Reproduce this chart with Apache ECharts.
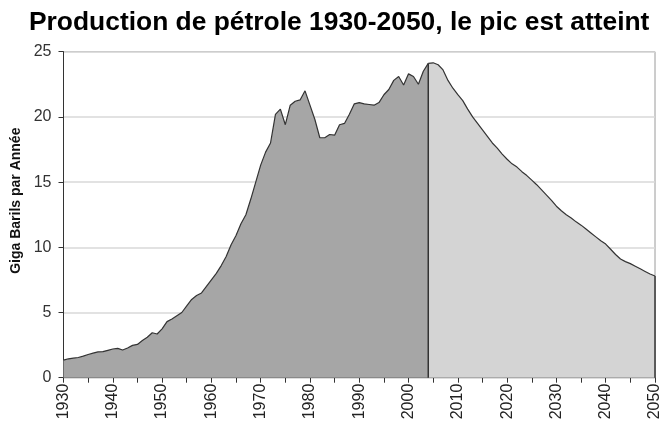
<!DOCTYPE html>
<html>
<head>
<meta charset="utf-8">
<script src="https://cdn.jsdelivr.net/npm/echarts@6/dist/echarts.min.js"></script>
<style>
html,body{margin:0;padding:0;background:#fff;}
#c{width:663px;height:427px;}
</style>
</head>
<body>
<div id="c"></div>
<script>
var titleText = "Production de pétrole 1930-2050, le pic est atteint";
var yAxisName = "Giga Barils par Année";

// Historical production 1930-2004 (one value per year)
var histStartYear = 1930;
var histValues = [
  1.35, 1.45, 1.5, 1.55, 1.65, 1.78, 1.88, 1.98, 2.0, 2.1,
  2.2, 2.25, 2.12, 2.28, 2.48, 2.55, 2.85, 3.1, 3.45, 3.35,
  3.75, 4.3, 4.5, 4.75, 5.0, 5.5, 6.0, 6.3, 6.5, 7.0,
  7.5, 8.0, 8.6, 9.3, 10.2, 10.9, 11.8, 12.5, 13.7, 15.0,
  16.3, 17.3, 18.0, 20.2, 20.6, 19.4, 20.9, 21.2, 21.3, 22.0,
  20.9, 19.8, 18.4, 18.4, 18.65, 18.6, 19.4, 19.5, 20.2, 21.0,
  21.1, 21.0, 20.95, 20.9, 21.1, 21.7, 22.1, 22.8, 23.1, 22.45,
  23.3, 23.1, 22.5, 23.5, 24.1
];

// Forecast production 2004-2050
var forecastStartYear = 2004;
var forecastValues = [
  24.1, 24.15, 24.0, 23.6, 22.8, 22.2, 21.7, 21.25, 20.6, 20.0,
  19.5, 19.0, 18.5, 18.0, 17.6, 17.15, 16.75, 16.4, 16.15, 15.8,
  15.5, 15.15, 14.8, 14.4, 14.0, 13.6, 13.15, 12.8, 12.5, 12.25,
  11.95, 11.7, 11.4, 11.1, 10.8, 10.5, 10.25, 9.85, 9.45, 9.1,
  8.9, 8.75, 8.55, 8.35, 8.15, 7.95, 7.8
];

var yTicks = [0, 5, 10, 15, 20, 25];

function pairs(start, vals) {
  return vals.map(function (v, i) { return [start + i, v]; });
}
var histData = pairs(histStartYear, histValues);
var foreData = pairs(forecastStartYear, forecastValues);
var histEnd = histData[histData.length - 1];
var foreEnd = foreData[foreData.length - 1];

var chart = echarts.init(document.getElementById('c'), null, {renderer: 'canvas'});
chart.setOption({
  animation: false,
  backgroundColor: '#fff',
  title: {
    text: titleText,
    left: 24,
    top: 5,
    textStyle: {fontFamily: 'Liberation Sans', fontWeight: 'bold', fontSize: 26.4, color: '#000'}
  },
  grid: {
    left: 63.5, right: 6, top: 51.7, bottom: 49.3,
    show: true, borderColor: '#9a9a9a', borderWidth: 1, backgroundColor: 'transparent'
  },
  xAxis: {
    type: 'value',
    min: 1930, max: 2050, interval: 5,
    axisLine: {show: true, onZero: false, lineStyle: {color: '#333', width: 1}},
    axisTick: {show: true, length: 5, lineStyle: {color: '#333'}},
    splitLine: {show: false},
    axisLabel: {
      rotate: 90, margin: 6,
      fontFamily: 'Liberation Sans', fontSize: 16, color: '#222',
      formatter: function (v) { return v % 10 === 0 ? String(v) : ''; }
    }
  },
  yAxis: {
    type: 'value',
    min: yTicks[0], max: yTicks[yTicks.length - 1], interval: 5,
    name: yAxisName,
    nameLocation: 'middle',
    nameGap: 40,
    nameTextStyle: {fontFamily: 'Liberation Sans', fontWeight: 'bold', fontSize: 14, color: '#111', padding: [0, 0, 0, 28]},
    axisLine: {show: true, lineStyle: {color: '#333', width: 1}},
    axisTick: {show: true, length: 5, lineStyle: {color: '#333'}},
    splitLine: {show: true, lineStyle: {color: '#d9d9d9', width: 1.5}},
    axisLabel: {fontFamily: 'Liberation Sans', fontSize: 16, color: '#333', margin: 12}
  },
  series: [
    {
      type: 'line', data: histData, showSymbol: false, smooth: false,
      lineStyle: {color: '#333', width: 1.2},
      areaStyle: {color: '#a6a6a6', opacity: 1},
      z: 2
    },
    {
      type: 'line', data: foreData, showSymbol: false, smooth: false,
      lineStyle: {color: '#333', width: 1.2},
      areaStyle: {color: '#d4d4d4', opacity: 1},
      z: 2
    },
    {
      type: 'line', data: [[histEnd[0], 0], histEnd], showSymbol: false,
      lineStyle: {color: '#333', width: 1.5}, z: 3
    },
    {
      type: 'line', data: [[foreEnd[0], 0], foreEnd], showSymbol: false,
      lineStyle: {color: '#333', width: 1.5}, z: 3
    }
  ]
});
</script>
</body>
</html>
